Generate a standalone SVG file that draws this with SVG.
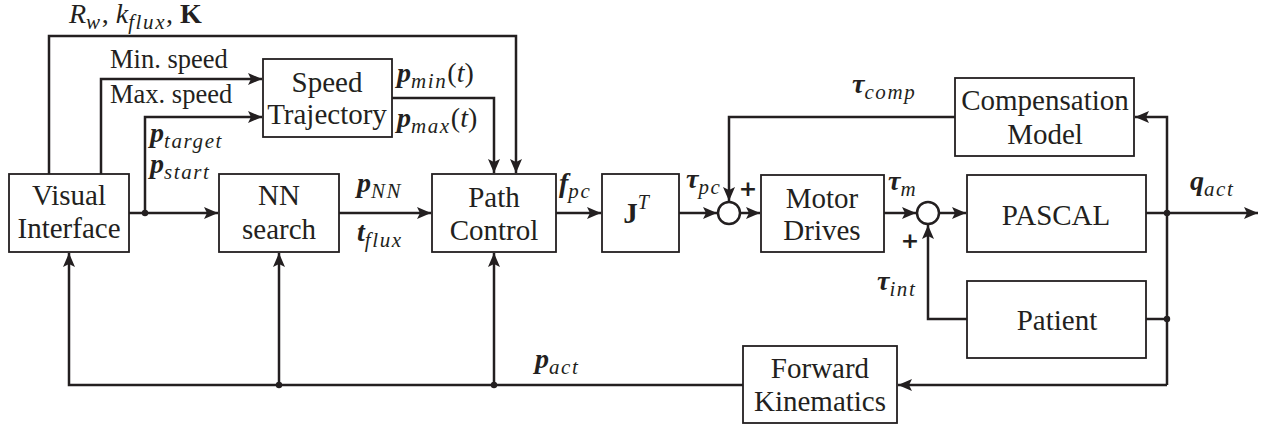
<svg xmlns="http://www.w3.org/2000/svg" width="1267" height="431" viewBox="0 0 1267 431">
<defs>
<marker id="arr" markerUnits="userSpaceOnUse" markerWidth="16" markerHeight="12" refX="14" refY="6" orient="auto">
<path d="M0,0 L14,6 L0,12 L3,6 z" fill="#231f20"/>
</marker>
<style>
.box{fill:#fff;stroke:#231f20;stroke-width:1.8}
.lbl{font-size:29px;fill:#231f20;text-anchor:middle}
.txt{font-size:26.5px;fill:#231f20}
.m{font-size:28px;fill:#231f20;font-style:italic;font-weight:bold}
.s{font-size:21px;font-weight:normal;font-style:italic;letter-spacing:1.6px}
.up{font-style:normal;font-weight:normal;letter-spacing:0}
.plus{font-size:22px;font-weight:bold;fill:#231f20;text-anchor:middle}
.c{fill:none;stroke:#231f20;stroke-width:2.5}
.a{marker-end:url(#arr)}
.dot{fill:#231f20}
.sum{fill:#fff;stroke:#231f20;stroke-width:2.5}
</style>
</defs>
<g id="connectors">
<path class="c a" d="M49,174 V36 H516 V173"/>
<path class="c a" d="M101,174 V79 H262"/>
<path class="c a" d="M145,213 V117 H262"/>
<path class="c a" d="M129,213 H218"/>
<path class="c a" d="M339,213 H431"/>
<path class="c a" d="M392,98 H494 V173"/>
<path class="c a" d="M556,213 H601"/>
<path class="c a" d="M679,213 H717"/>
<path class="c a" d="M955,117 H729 V201"/>
<path class="c a" d="M740,213 H760"/>
<path class="c a" d="M884,213 H916"/>
<path class="c a" d="M939,213 H966"/>
<path class="c a" d="M1146,213 H1258"/>
<path class="c a" d="M1167,385 V117 H1135"/>
<path class="c" d="M1146,319 H1167"/>
<path class="c a" d="M967,319 H928 V225"/>
<path class="c a" d="M1167,385 H898"/>
<path class="c a" d="M743,385 H69 V253"/>
<path class="c a" d="M279,385 V253"/>
<path class="c a" d="M494,385 V253"/>
<circle class="dot" cx="145" cy="213" r="3.2"/>
<circle class="dot" cx="1167" cy="213" r="3.2"/>
<circle class="dot" cx="1167" cy="319" r="3.2"/>
<circle class="dot" cx="279" cy="385" r="3.2"/>
<circle class="dot" cx="494" cy="385" r="3.2"/>
<g font-family="Liberation Serif, Times New Roman, serif">
<text class="m" x="69" y="23"><tspan style="font-weight:normal">R</tspan><tspan class="s" dy="6">w</tspan><tspan class="up" dy="-6">, </tspan><tspan style="font-weight:normal">k</tspan><tspan class="s" dy="6">flux</tspan><tspan class="up" dy="-6">, </tspan><tspan style="font-style:normal">K</tspan></text>
<text class="txt" x="110" y="68">Min. speed</text>
<text class="txt" x="110" y="103">Max. speed</text>
<text class="m" x="150" y="142">p<tspan class="s" dy="6">target</tspan></text>
<text class="m" x="150" y="173">p<tspan class="s" dy="6">start</tspan></text>
<text class="m" x="397" y="82">p<tspan class="s" dy="6">min</tspan><tspan class="up" dy="-6">(</tspan><tspan class="up" style="font-style:italic">t</tspan><tspan class="up">)</tspan></text>
<text class="m" x="397" y="127">p<tspan class="s" dy="6">max</tspan><tspan class="up" dy="-6">(</tspan><tspan class="up" style="font-style:italic">t</tspan><tspan class="up">)</tspan></text>
<text class="m" x="357" y="192">p<tspan class="s" dy="6">NN</tspan></text>
<text class="m" x="357" y="241">t<tspan class="s" dy="6">flux</tspan></text>
<text class="m" x="559" y="192">f<tspan class="s" dy="6">pc</tspan></text>
<text class="m" x="686" y="188">τ<tspan class="s" dy="6">pc</tspan></text>
<text class="m" x="852" y="93">τ<tspan class="s" dy="6">comp</tspan></text>
<text class="m" x="888" y="190">τ<tspan class="s" dy="6">m</tspan></text>
<text class="m" x="877" y="290">τ<tspan class="s" dy="6">int</tspan></text>
<text class="m" x="1190" y="190">q<tspan class="s" dy="6">act</tspan></text>
<text class="m" x="535" y="368">p<tspan class="s" dy="6">act</tspan></text>
</g>
<g font-family="DejaVu Sans, sans-serif">
<text class="plus" x="748" y="196">+</text>
<text class="plus" x="910" y="248">+</text>
</g>
</g>
<g id="sum1"><circle class="sum" cx="729" cy="213" r="11"/></g>
<g id="sum2"><circle class="sum" cx="928" cy="213" r="11"/></g>
<g id="visual-interface" font-family="Liberation Serif, Times New Roman, serif"><rect class="box" x="9" y="174" width="120" height="78"/><text class="lbl" x="69" y="205">Visual</text><text class="lbl" x="69" y="238">Interface</text></g>
<g id="speed-trajectory" font-family="Liberation Serif, Times New Roman, serif"><rect class="box" x="263" y="59" width="129" height="78"/><text class="lbl" x="327" y="92">Speed</text><text class="lbl" x="327" y="124">Trajectory</text></g>
<g id="nn-search" font-family="Liberation Serif, Times New Roman, serif"><rect class="box" x="219" y="174" width="120" height="78"/><text class="lbl" x="279" y="205">NN</text><text class="lbl" x="279" y="239">search</text></g>
<g id="path-control" font-family="Liberation Serif, Times New Roman, serif"><rect class="box" x="432" y="174" width="124" height="78"/><text class="lbl" x="494" y="207">Path</text><text class="lbl" x="494" y="240">Control</text></g>
<g id="jacobian" font-family="Liberation Serif, Times New Roman, serif"><rect class="box" x="602" y="174" width="77" height="78"/><text class="lbl" x="636" y="223" style="font-weight:bold">J<tspan style="font-weight:normal;font-style:italic;font-size:20px" dy="-14">T</tspan></text></g>
<g id="motor-drives" font-family="Liberation Serif, Times New Roman, serif"><rect class="box" x="761" y="175" width="123" height="77"/><text class="lbl" x="822" y="208">Motor</text><text class="lbl" x="822" y="240">Drives</text></g>
<g id="compensation-model" font-family="Liberation Serif, Times New Roman, serif"><rect class="box" x="955" y="78" width="179" height="78"/><text class="lbl" x="1045" y="110">Compensation</text><text class="lbl" x="1045" y="144">Model</text></g>
<g id="pascal" font-family="Liberation Serif, Times New Roman, serif"><rect class="box" x="967" y="175" width="179" height="77"/><text class="lbl" x="1056" y="225">PASCAL</text></g>
<g id="patient" font-family="Liberation Serif, Times New Roman, serif"><rect class="box" x="967" y="281" width="179" height="77"/><text class="lbl" x="1057" y="330">Patient</text></g>
<g id="forward-kinematics" font-family="Liberation Serif, Times New Roman, serif"><rect class="box" x="743" y="346" width="154" height="77"/><text class="lbl" x="820" y="378">Forward</text><text class="lbl" x="820" y="411">Kinematics</text></g>
</svg>
